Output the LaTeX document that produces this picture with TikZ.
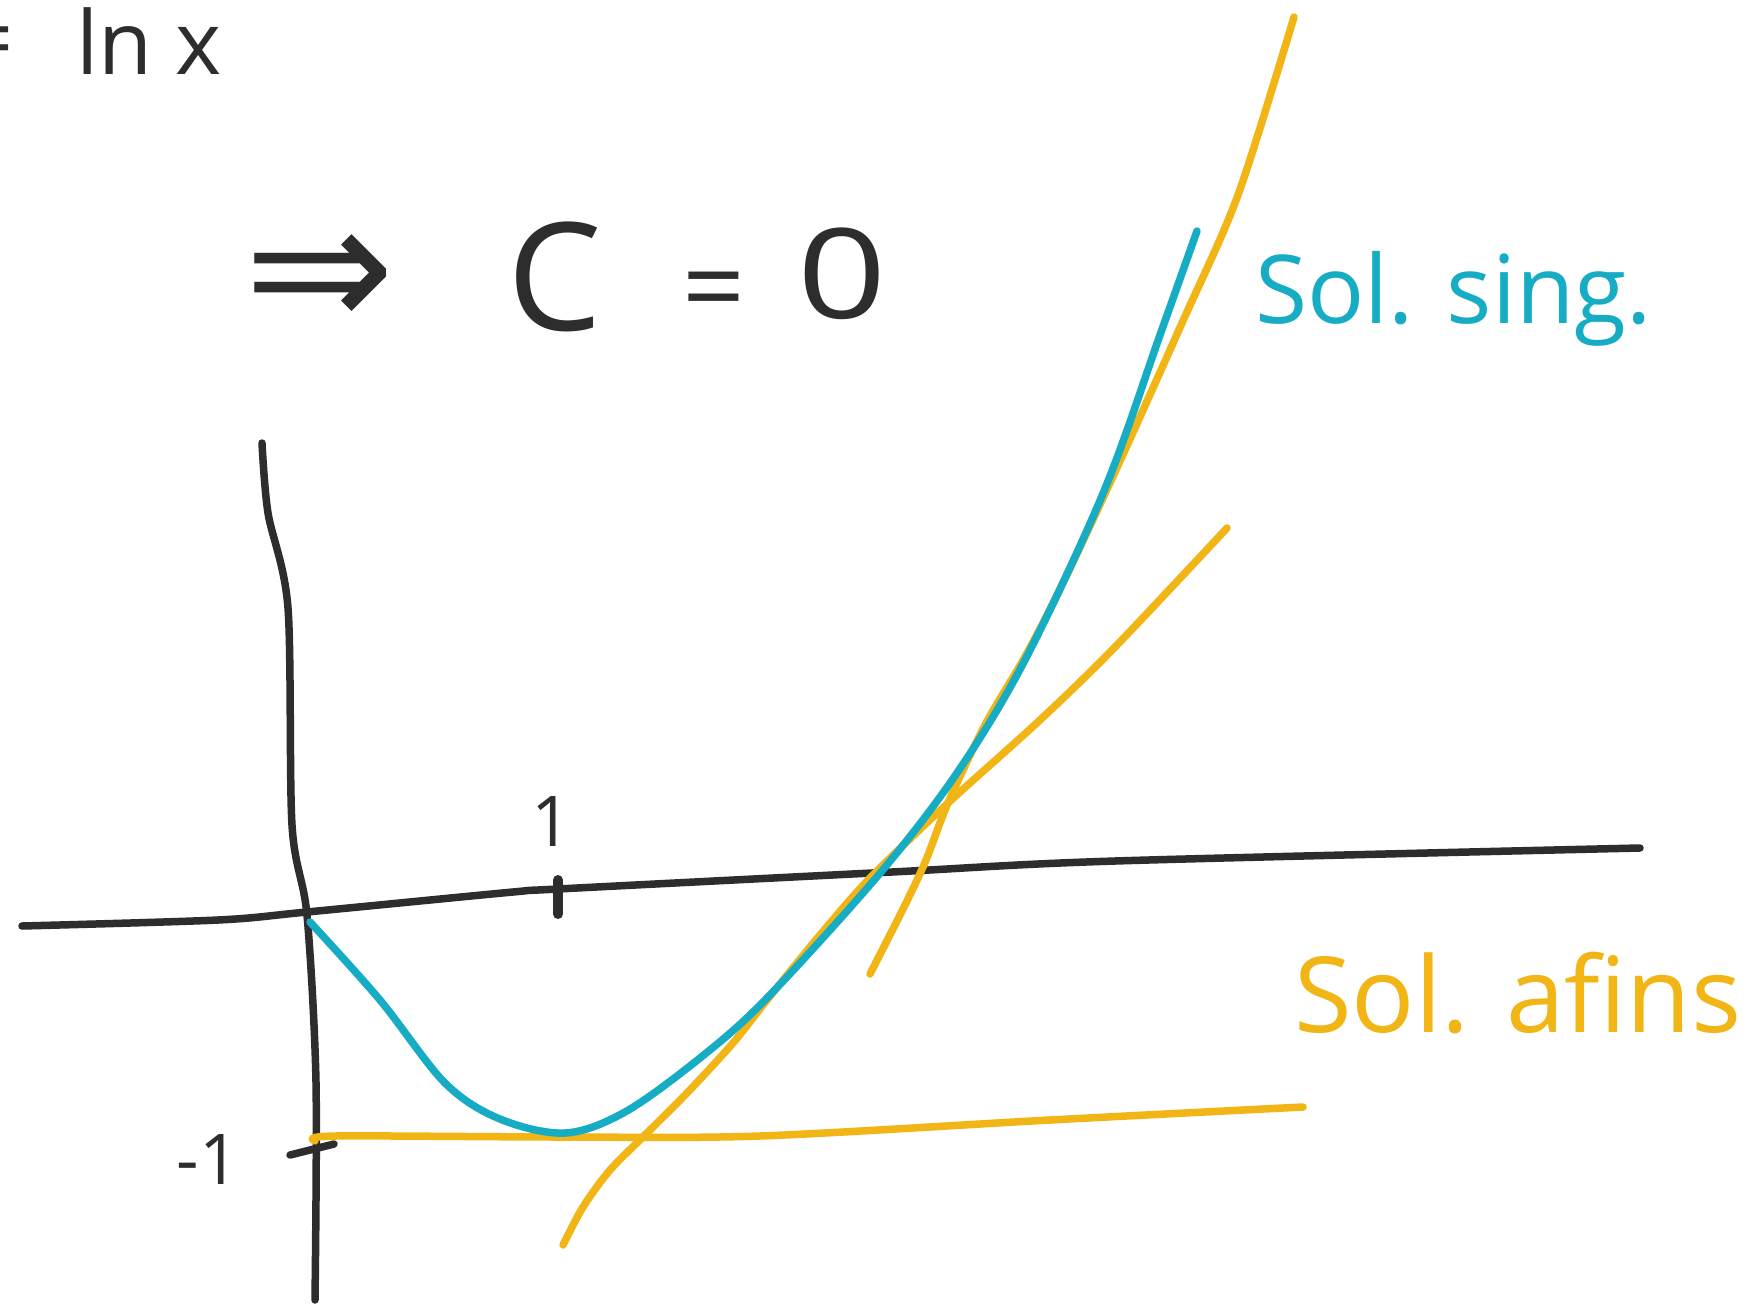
\documentclass[tikz,border=0pt]{standalone}
\usepackage{fontspec}
\setmainfont{Open Sans}
\newfontfamily\symfont{DejaVu Sans}
\definecolor{cyanink}{RGB}{22,172,196}
\definecolor{orangeink}{RGB}{242,181,22}
\definecolor{ink}{RGB}{45,45,45}
\begin{document}
\begin{tikzpicture}[x=1pt,y=-1pt,
  pen/.style={line width=7.5pt, line cap=round, line join=round},
  hand/.style={inner sep=0pt, font=\fontsize{#1}{#1}\selectfont}]
\useasboundingbox (0,0) rectangle (1749,1309);
\fill[white] (0,0) rectangle (1749,1309);
% top texts
\node[hand=90, text=ink, anchor=base east] (eq) at (14,70) {=};
\node[hand=88, text=ink, anchor=base west] (lnx) at (76,74) {ln x};
\node[text=ink, inner sep=0pt, font=\symfont\fontsize{180}{180}\selectfont] (impl) at (320,282) {⇒};
\node[hand=150, text=ink, anchor=base] (C) at (555,330) {C};
\node[hand=110, text=ink, anchor=base] (eq2) at (714,325) {=};
\node[hand=125, text=ink, anchor=base, xscale=1.25] (zero) at (842,318) {0};
% axes
\draw[pen, ink] plot[smooth, tension=0.5] coordinates {(262,443) (268,513) (288,608) (292,825) (307,915) (316,1082) (315,1300)};
\draw[pen, ink] plot[smooth, tension=0.5] coordinates {(22,926) (218,920) (307,912) (513,892) (558,889) (892,872) (1115,861) (1640,848)};
\coordinate (t1a) at (558,880); \coordinate (t1b) at (558,914);
\draw[pen, ink, line width=10pt] (t1a) -- (t1b);
\node[hand=70, text=ink] (one) at (552,822) {1};
\coordinate (tma) at (290,1155); \coordinate (tmb) at (334,1144);
\draw[pen, ink] (tma) -- (tmb);
\node[hand=70, text=ink] (mone) at (208,1160) {-1};
% orange affine solutions
\draw[pen, orangeink] plot[smooth, tension=0.5] coordinates {(315,1141) (335,1136) (560,1137) (760,1136) (1050,1120) (1303,1107)};
\draw[pen, orangeink] plot[smooth, tension=0.5] coordinates {(563,1245) (583,1207) (610,1170) (647,1133) (687,1093) (733,1043) (767,1000) (820,935) (870,878) (948,803) (1040,720) (1115,647) (1227,528)};
\draw[pen, orangeink] plot[smooth, tension=0.5] coordinates {(870,974) (905,905) (926,860) (948,803) (985,725) (1026,655) (1062,585) (1115,472) (1182,323) (1238,195) (1294,17)};
% cyan singular solution
\draw[pen, cyanink] plot[smooth, tension=0.55] coordinates {(310,922) (380,1000) (445,1083) (500,1119) (565,1133) (625,1112) (700,1058) (767,998) (881,872) (959,770) (1026,658) (1104,491) (1160,335) (1197,231)};
% labels
\node[hand=95, text=cyanink, anchor=base west] (sing) at (1255,323) {Sol. sing.};
\node[hand=105, text=orangeink, anchor=base west] (afim) at (1294,1032) {Sol. afins};
\end{tikzpicture}
\end{document}
